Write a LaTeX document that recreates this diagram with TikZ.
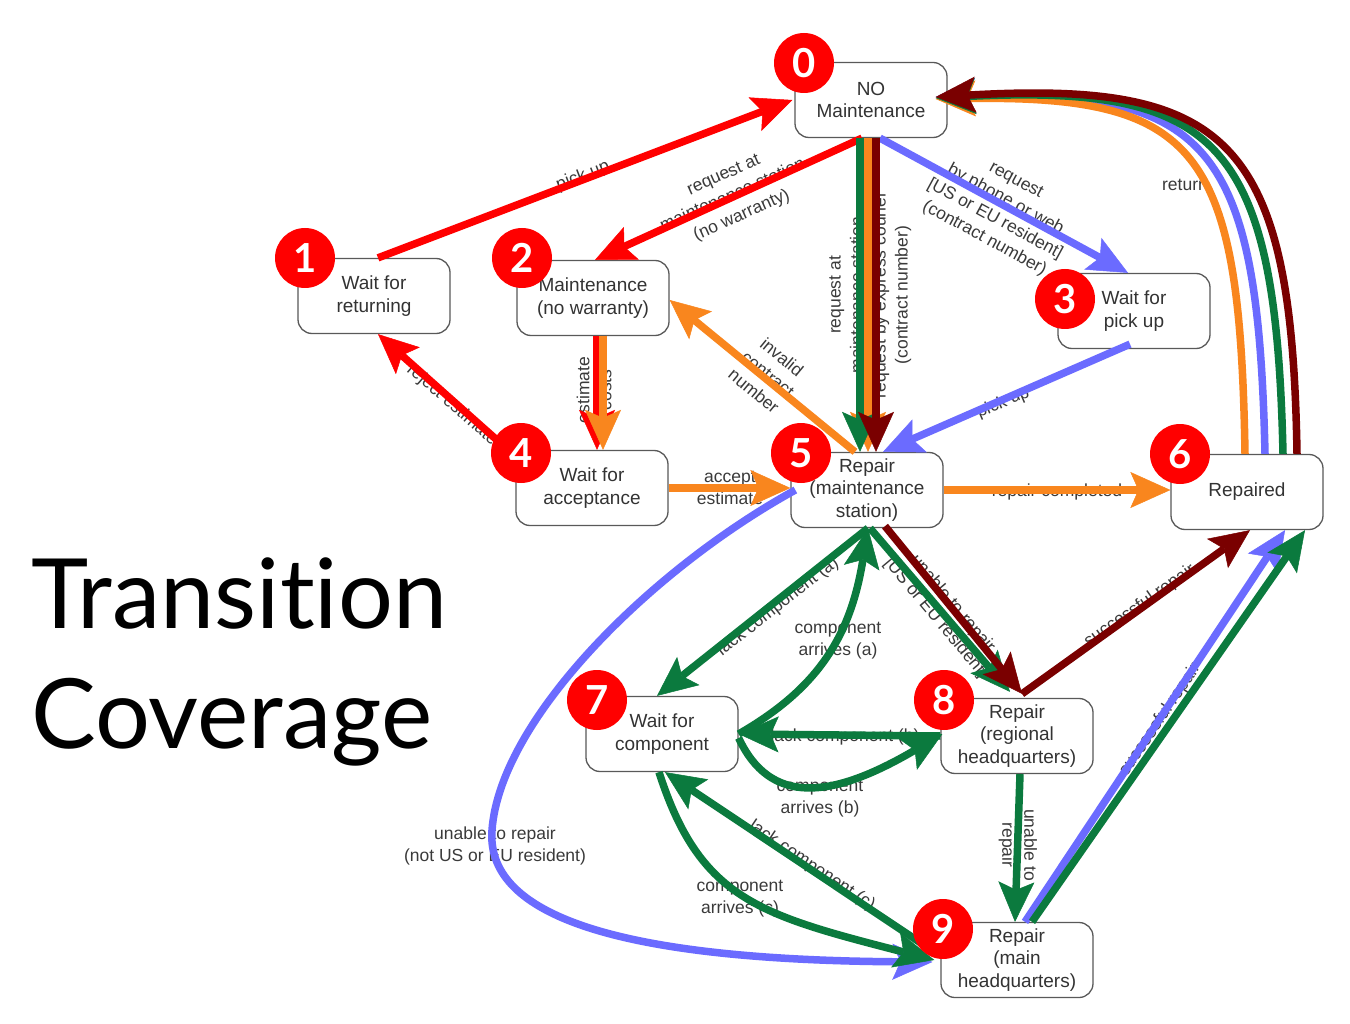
\documentclass[tikz,border=0pt]{standalone}
\usepackage{fontspec}
\setmainfont{Liberation Sans}
\newfontfamily\titlefont[Ligatures={NoCommon}]{Lato}
\usetikzlibrary{arrows.meta}
\definecolor{cred}{HTML}{FF0000}
\definecolor{corange}{HTML}{F9861E}
\definecolor{cblue}{HTML}{6B6BFF}
\definecolor{cgreen}{HTML}{0B7A3E}
\definecolor{cmaroon}{HTML}{7A0000}
\definecolor{clabel}{HTML}{3A3A3A}
\tikzset{
  state/.style={draw=black!65, line width=1.3pt, rounded corners=14pt, fill=white,
    minimum width=152pt, minimum height=75pt, inner sep=0pt, align=center,
    font=\fontsize{19}{22.5}\selectfont, text=black!80},
  badge/.style={circle, fill=cred, minimum size=60pt, inner sep=0pt, text=white,
    font=\titlefont\bfseries\fontsize{40}{40}\selectfont},
  lab/.style={align=center, font=\fontsize{17.5}{22}\selectfont, text=clabel, inner sep=0pt},
  trans/.style={line width=7.5pt, -{Stealth[length=40pt,width=36pt,inset=8pt,line width=0.5pt]}},
  ttl/.style={anchor=base west, inner sep=0pt, font=\titlefont\fontsize{97}{97}\selectfont}
}
\begin{document}
\begin{tikzpicture}[x=1pt,y=-1pt]
\fill[white] (0,0) rectangle (1350,1024);
\useasboundingbox (0,0) rectangle (1350,1024);

% title
\node[ttl] (t1) at (31,628) {Transition};
\node[ttl] (t2) at (31,748) {Coverage};

% states
\node[state] (n0) at (871,100) {NO\\Maintenance};
\node[state] (n1) at (374,296) {Wait for\\returning};
\node[state] (n2) at (593,298) {Maintenance\\(no warranty)};
\node[state] (n3) at (1134,311) {Wait for\\pick up};
\node[state] (n4) at (592,488) {Wait for\\acceptance};
\node[state] (n5) at (867,490) {Repair\\(maintenance\\station)};
\node[state] (n6) at (1247,492) {Repaired};
\node[state] (n7) at (662,734) {Wait for\\component};
\node[state] (n8) at (1017,736) {Repair\\(regional\\headquarters)};
\node[state] (n9) at (1017,960) {Repair\\(main\\headquarters)};

% labels
\node[lab, rotate=21] (l10) at (583,176) {pick up};
\node[lab, rotate=24] (l02) at (733,196) {request at\\maintenance station\\(no warranty)};
\node[lab, rotate=90] (l05a) at (846,295) {request at\\maintenance station};
\node[lab, rotate=90] (l05b) at (892,295) {request by express courier\\(contract number)};
\node[lab, rotate=-28.5] (l03) at (1000,210) {request\\by phone or web\\{[}US or EU resident{]}\\(contract number)};
\node[lab, rotate=23] (l35) at (1003,403) {pick up};
\node[lab, rotate=-39.5] (l52) at (768,374) {invalid\\contract\\number};
\node[lab, rotate=90] (l24) at (594,390) {estimate\\costs};
\node[lab, rotate=-41] (l41) at (452,405) {reject estimate};
\node[lab] (l45) at (730,488) {accept\\estimate};
\node[lab] (l56) at (1057,492) {repair completed};
\node[lab] (l60) at (1185,185) {return};
\node[lab, rotate=-50] (l58) at (944,611) {unable to repair\\{[}US or EU resident{]}};
\node[lab, rotate=38] (l57) at (778,607) {lack component (a)};
\node[lab] (l75) at (838,641) {component\\arrives (a)};
\node[lab] (l87) at (845,737) {lack component (b)};
\node[lab] (l78) at (820,799) {component\\arrives (b)};
\node[lab, rotate=-90] (l89) at (1018,845) {unable to\\repair};
\node[lab, rotate=-34] (l97) at (812,866) {lack component (c)};
\node[lab] (l79) at (740,899) {component\\arrives (c)};
\node[lab] (l59) at (495,846) {unable to repair\\(not US or EU resident)};
\node[lab, rotate=35] (l86) at (1140,606) {successful repair};
\node[lab, rotate=56] (l96) at (1160,720) {successful repair};

% blue transitions
\draw[trans, cblue] ([shift={(9,0)}]n0.south) -- ([shift={(-6,0)}]n3.north);
\draw[trans, cblue] ([shift={(-4,-5)}]n3.south) -- ([shift={(16,0)}]n5.north);
\draw[trans, cblue] ([shift={(5,0)}]n5.west) .. controls (650,570) and (500,720) .. (492,830)
   .. controls (486,910) and (600,960) .. ([shift={(-8,2)}]n9.west);
\draw[trans, cblue] ([shift={(8,0)}]n9.north) -- ([shift={(38,0)}]n6.south);
\draw[trans, cblue] ([shift={(18,0)}]n6.north) .. controls (1258,145) and (1210,88) .. ([shift={(-12,-3)}]n0.east);

% red transitions
\draw[trans, cred] ([shift={(4,0)}]n1.north) -- ([shift={(-2,0)}]n0.west);
\draw[trans, cred] ([shift={(-9,0)}]n0.south) -- ([shift={(2,0)}]n2.north);
\draw[trans, cred] ([shift={(4,0)}]n2.south) -- ([shift={(5,0)}]n4.north);
\draw[trans, cred] ([shift={(4,-28)}]n4.west) -- ([shift={(4,0)}]n1.south);

% orange transitions
\draw[trans, corange] ([shift={(10,0)}]n2.south) -- ([shift={(11,0)}]n4.north);
\draw[trans, corange] (n4.east) -- (n4.east -| n5.west);
\draw[trans, corange] (n5.east) -- (n5.east -| n6.west);
\draw[trans, corange] ([shift={(-12,0)}]n5.north) -- ([shift={(0,2)}]n2.east);
\draw[trans, corange] ([shift={(-3,0)}]n0.south) -- ([shift={(1,0)}]n5.north);
\draw[trans, corange] ([shift={(-2,0)}]n6.north) .. controls (1240,150) and (1200,95) .. ([shift={(-12,-1)}]n0.east);

% green transitions
\draw[trans, cgreen] ([shift={(-11,0)}]n0.south) -- ([shift={(-7,0)}]n5.north);
\draw[trans, cgreen] ([shift={(1,0)}]n5.south) -- ([shift={(-5,0)}]n7.north);
\draw[trans, cgreen] (n7.east) .. controls (815,690) and (850,640) .. ([shift={(1,0)}]n5.south);
\draw[trans, cgreen] ([shift={(3,0)}]n5.south) -- ([shift={(-7,-6)}]n8.north);
\draw[trans, cgreen] (n8.west) -- (n7.east);
\draw[trans, cgreen] ([shift={(0,4)}]n7.east) .. controls (770,805) and (830,800) .. ([shift={(2,-2)}]n8.west);
\draw[trans, cgreen] ([shift={(3,0)}]n8.south) -- ([shift={(-2,0)}]n9.north);
\draw[trans, cgreen] ([shift={(-3,-6)}]n9.west) -- ([shift={(3,0)}]n7.south);
\draw[trans, cgreen] ([shift={(-3,0)}]n7.south) .. controls (700,900) and (760,915) .. ([shift={(-6,0)}]n9.west);
\draw[trans, cgreen] ([shift={(15,0)}]n9.north) -- ([shift={(58,0)}]n6.south);
\draw[trans, cgreen] ([shift={(36,0)}]n6.north) .. controls (1276,142) and (1220,84) .. ([shift={(-12,-2)}]n0.east);

% maroon transitions
\draw[trans, cmaroon] ([shift={(5,0)}]n0.south) -- ([shift={(9,0)}]n5.north);
\draw[trans, cmaroon] ([shift={(18,-2)}]n5.south) -- ([shift={(5,-4)}]n8.north);
\draw[trans, cmaroon] ([shift={(5,-4)}]n8.north) -- ([shift={(3,0)}]n6.south);
\draw[trans, cmaroon] ([shift={(50,0)}]n6.north) .. controls (1292,140) and (1230,80) .. ([shift={(-12,-3)}]n0.east);

% badges
\node[badge] (b0) at (804,63) {0};
\node[badge] (b1) at (305,258) {1};
\node[badge] (b2) at (522,258) {2};
\node[badge] (b3) at (1065,299) {3};
\node[badge] (b4) at (521,453) {4};
\node[badge] (b5) at (801,453) {5};
\node[badge] (b6) at (1180,454) {6};
\node[badge] (b7) at (597,700) {7};
\node[badge] (b8) at (944,700) {8};
\node[badge] (b9) at (943,929) {9};
\end{tikzpicture}
\end{document}
